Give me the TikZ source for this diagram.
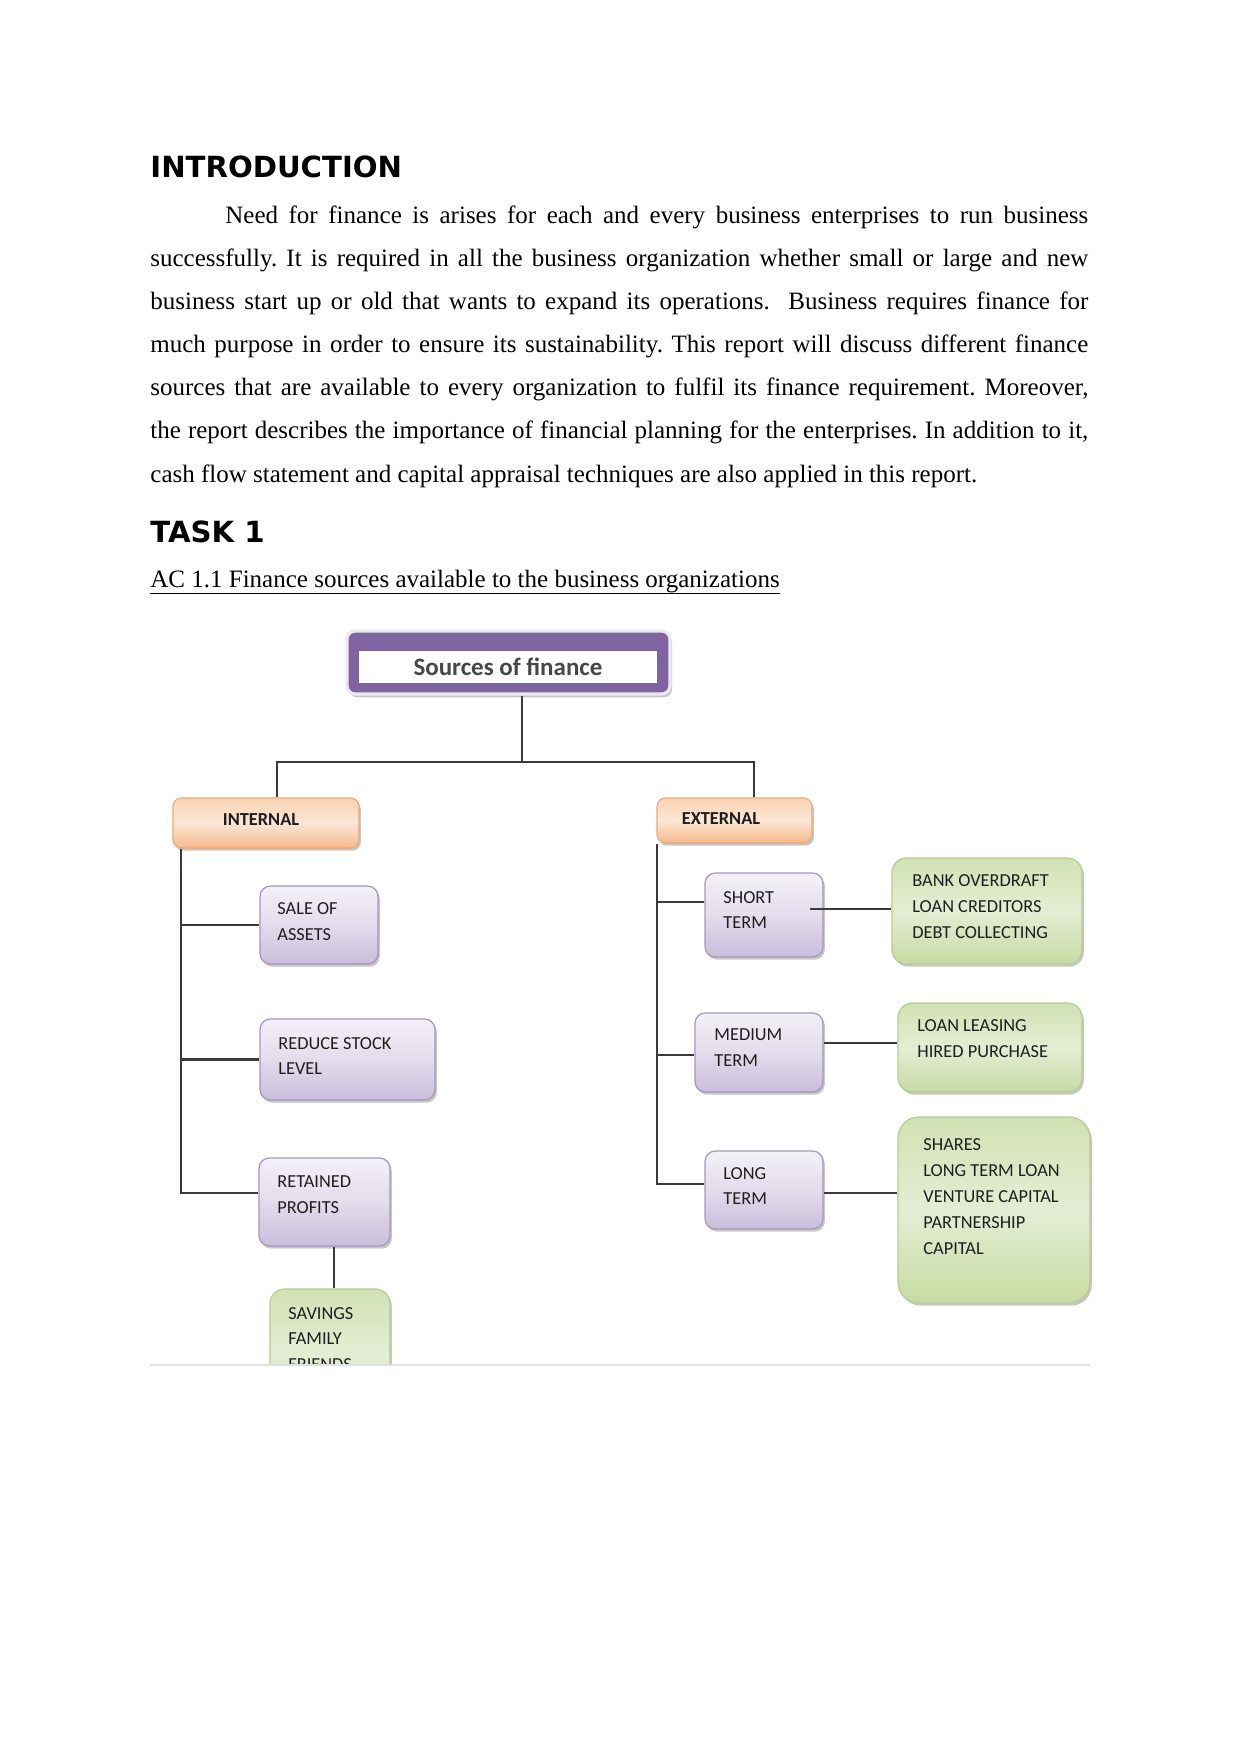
\documentclass[tikz,border=0pt]{standalone}
\usepackage{fontspec}
\setmainfont{Liberation Serif}
\newfontfamily\headfont{DejaVu Sans}
\newfontfamily\calib{Carlito}
\usetikzlibrary{shadows,calc}
\frenchspacing
\definecolor{linegray}{HTML}{3A3A3A}
\definecolor{txtgray}{HTML}{1E1E1E}
\definecolor{pcol}{HTML}{8064A2}
\definecolor{ptop}{HTML}{F4F1F8}
\definecolor{pmid}{HTML}{E3DCEC}
\definecolor{pbot}{HTML}{C9BEDB}
\definecolor{pborder}{HTML}{A597BD}
\definecolor{otop}{HTML}{FAD3B2}
\definecolor{omid}{HTML}{FCE7D6}
\definecolor{obot}{HTML}{F6B88A}
\definecolor{oborder}{HTML}{EBA775}
\definecolor{gtop}{HTML}{D2E1B3}
\definecolor{gmid}{HTML}{E4EDD4}
\definecolor{gbot}{HTML}{C7DBA3}
\definecolor{gborder}{HTML}{B7CD90}
\begin{document}
\begin{tikzpicture}[x=0.48pt,y=-0.48pt,
  conn/.style={draw=linegray, line width=1pt},
  shad/.style={drop shadow={shadow xshift=0.9pt, shadow yshift=-1.3pt, fill=black, opacity=0.22}},
  pbox/.style={rectangle, rounded corners=5pt, inner sep=0pt, draw=pborder, line width=0.6pt,
    top color=ptop, bottom color=pbot, middle color=pmid, shad},
  obox/.style={rectangle, rounded corners=4pt, inner sep=0pt, draw=oborder, line width=0.5pt,
    top color=otop, bottom color=obot, middle color=omid, shad},
  gbox/.style={rectangle, rounded corners=7pt, inner sep=0pt, draw=gborder, line width=0.6pt,
    top color=gtop, bottom color=gbot, middle color=gmid, shad},
  lbl/.style={anchor=west, align=left, inner sep=0pt, text=txtgray,
    font={\calib\fontsize{8.8}{12.4}\selectfont}},
  bodyline/.style={anchor=base west, inner sep=0pt, font={\fontsize{12}{14}\selectfont}},
  heading/.style={anchor=base west, inner sep=0pt, font={\headfont\bfseries\fontsize{14}{17}\selectfont}}
]
\useasboundingbox (0,0) rectangle (1241,1754);
\fill[white] (0,0) rectangle (1241,1754);

% ---------- text ----------
\node[heading] (intro) at (150,177) {INTRODUCTION};
\node[bodyline] (l1) at (225,223) {\makebox[414.2pt][s]{Need for finance is arises for each and every business enterprises to run business}};
\node[bodyline] (l2) at (150,266) {\makebox[450.2pt][s]{successfully. It is required in all the business organization whether small or large and new}};
\node[bodyline] (l3) at (150,309) {\makebox[450.2pt][s]{business start up or old that wants to expand its operations.\ \ Business requires finance for}};
\node[bodyline] (l4) at (150,352) {\makebox[450.2pt][s]{much purpose in order to ensure its sustainability. This report will discuss different finance}};
\node[bodyline] (l5) at (150,395) {\makebox[450.2pt][s]{sources that are available to every organization to fulfil its finance requirement. Moreover,}};
\node[bodyline] (l6) at (150,438) {\makebox[450.2pt][s]{the report describes the importance of financial planning for the enterprises. In addition to it,}};
\node[bodyline] (l7) at (150,482) {cash flow statement and capital appraisal techniques are also applied in this report.};
\node[heading] (task) at (150,542) {TASK 1};
\node[bodyline] (ac) at (150,587) {AC 1.1 Finance sources available to the business organizations};
\draw[line width=0.5pt] ([yshift=-3pt]ac.base west) -- ([yshift=-3pt]ac.base east);

% ---------- diagram boxes ----------
\node[rectangle, rounded corners=4pt, inner sep=0pt, fill=pcol, draw=pcol!15, line width=1.5pt,
  drop shadow={shadow xshift=1pt, shadow yshift=-1.6pt, fill=black, opacity=0.22},
  minimum width=323*0.48pt, minimum height=63*0.48pt] (src) at (508.5,662.5) {};
\node[rectangle, inner sep=0pt, fill=white, minimum width=298*0.48pt, minimum height=32*0.48pt,
  font={\calib\bfseries\fontsize{12}{14}\selectfont}, text=black!72] (srcin) at (508,667) {Sources of finance};

\node[obox, minimum width=186*0.48pt, minimum height=50*0.48pt] (internal) at (266,823) {};
\node[inner sep=0pt, text=txtgray, font={\calib\bfseries\fontsize{8.8}{11}\selectfont}] (internalT) at (261,820) {INTERNAL};
\node[obox, minimum width=155*0.48pt, minimum height=45*0.48pt] (external) at (734.5,820.5) {};
\node[inner sep=0pt, text=txtgray, font={\calib\bfseries\fontsize{8.8}{11}\selectfont}] (externalT) at (721,819) {EXTERNAL};

\node[pbox, minimum width=118*0.48pt, minimum height=78*0.48pt] (sale) at (319,925) {};
\node[lbl] (saleT) at (277,921.5) {SALE OF\\ASSETS};
\node[pbox, minimum width=175*0.48pt, minimum height=81*0.48pt] (reduce) at (347.5,1059.5) {};
\node[lbl] (reduceT) at (278,1056) {REDUCE STOCK\\LEVEL};
\node[pbox, minimum width=131*0.48pt, minimum height=88*0.48pt] (retained) at (324.5,1202) {};
\node[lbl] (retainedT) at (277,1195) {RETAINED\\PROFITS};

\begin{scope}
\clip (0,0) rectangle (1241,1365);
\node[gbox, minimum width=120*0.48pt, minimum height=131*0.48pt] (savings) at (330,1354.5) {};
\node[lbl] (savingsT) at (288,1339) {SAVINGS\\FAMILY\\FRIENDS};
\end{scope}
\draw[draw=black!12, line width=0.8pt] (150,1365) -- (1090,1365);

\node[pbox, minimum width=118*0.48pt, minimum height=84*0.48pt] (short) at (764,915) {};
\node[lbl] (shortT) at (723,910) {SHORT\\TERM};
\node[pbox, minimum width=128*0.48pt, minimum height=79*0.48pt] (medium) at (759,1052.5) {};
\node[lbl] (mediumT) at (714,1048) {MEDIUM\\TERM};
\node[pbox, minimum width=118*0.48pt, minimum height=78*0.48pt] (long) at (764,1190) {};
\node[lbl] (longT) at (723,1186) {LONG\\TERM};

\node[gbox, minimum width=190*0.48pt, minimum height=106*0.48pt] (bank) at (987,911) {};
\node[lbl] (bankT) at (912,906.7) {BANK OVERDRAFT\\LOAN CREDITORS\\DEBT COLLECTING};
\node[gbox, minimum width=184*0.48pt, minimum height=89*0.48pt] (leasing) at (990,1047.5) {};
\node[lbl] (leasingT) at (917,1038.5) {LOAN LEASING\\HIRED PURCHASE};
\node[gbox, rounded corners=10pt, minimum width=192*0.48pt, minimum height=186*0.48pt] (shares) at (994,1210) {};
\node[lbl] (sharesT) at (923,1196.5) {SHARES\\LONG TERM LOAN\\VENTURE CAPITAL\\PARTNERSHIP\\CAPITAL};

% ---------- connectors ----------
\coordinate (hub) at (522,762);
\coordinate (il) at (277,762);
\coordinate (el) at (754,762);
\draw[conn] (src.south -| hub) -- (hub);
\draw[conn] (internal.north -| il) -- (il) -- (el) -- (external.north -| el);

\coordinate (it) at (181,848);
\coordinate (rj) at (0,1193);
\draw[conn] (internal.south -| it) -- (it |- rj) -- (rj -| retained.west);
\draw[conn] (it |- sale.west) -- (sale.west);
\draw[conn] (it |- reduce.west) -- (reduce.west);
\coordinate (rs) at (334,0);
\draw[conn] (retained.south -| rs) -- (savings.north -| rs);

\coordinate (et) at (657,843);
\coordinate (sj) at (0,902);
\coordinate (mj) at (0,1055);
\coordinate (lj) at (0,1184);
\draw[conn] (external.south -| et) -- (et |- lj) -- (lj -| long.west);
\draw[conn] (et |- sj) -- (sj -| short.west);
\draw[conn] (et |- mj) -- (mj -| medium.west);

\coordinate (sb) at (810,909);
\coordinate (ml) at (0,1043);
\coordinate (ls) at (0,1193);
\draw[conn] (sb) -- (sb -| bank.west);
\draw[conn] (ml -| medium.east) -- (ml -| leasing.west);
\draw[conn] (ls -| long.east) -- (ls -| shares.west);
\end{tikzpicture}
\end{document}
